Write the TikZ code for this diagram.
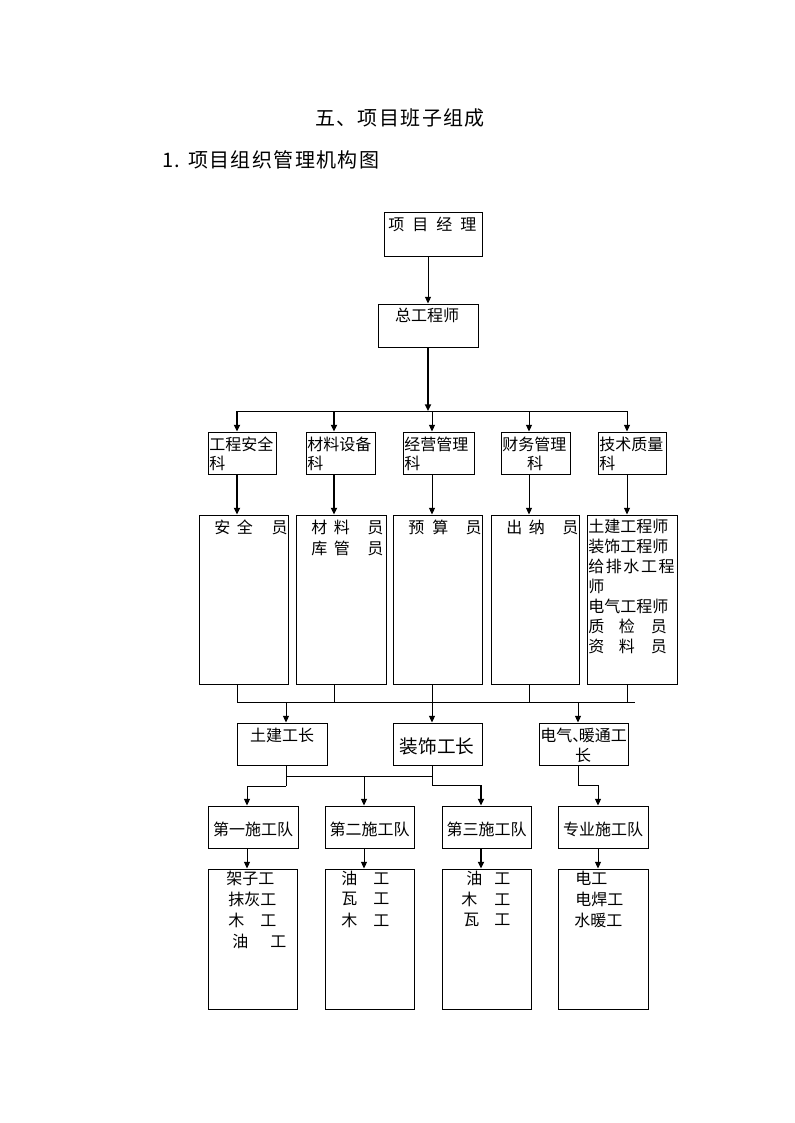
\documentclass[tikz,border=0pt]{standalone}
\usepackage{fontspec}
\setmainfont{Noto Sans CJK SC}
\newfontfamily\spacedfont[LetterSpace=7]{Noto Sans CJK SC}
\usetikzlibrary{arrows.meta,fit}
\begin{document}
\begin{tikzpicture}[x=0.75pt,y=-0.75pt,
  box/.style={draw,line width=0.75pt,inner sep=0pt},
  arr/.style={-{Triangle[length=5pt,width=4.5pt]},line width=0.75pt},
  tarr/.style={-{Triangle[length=5pt,width=4.5pt]},line width=1.6pt},
  ln/.style={line width=0.75pt},
  txt/.style={font=\fontsize{12pt}{14pt}\selectfont,inner sep=0pt,anchor=west},
  ctxt/.style={font=\fontsize{12pt}{14pt}\selectfont,inner sep=0pt},
  ttl/.style={font=\spacedfont\fontsize{15pt}{18pt}\selectfont,inner sep=0pt}]
\useasboundingbox[fill=white] (0,0) rectangle (794,1123);

% titles
\node[ttl] (title) at (400,118) {五、项目班子组成};
\node[ttl,anchor=west] (subtitle) at (162,160) {1. 项目组织管理机构图};

% top
\node[box,fit={(384,213)(482,256)}] (pm) {};
\node[txt] (tpm) at (388,224) {项\hspace{6pt}目\hspace{6pt}经\hspace{6pt}理};
\node[box,fit={(378,304)(478,347)}] (ce) {};
\node[ctxt] (tce) at (427,315) {总工程师};
\draw[arr] (pm.south -| ce.north) -- (ce.north);

% department bus
\coordinate (k1) at (237,411);
\coordinate (k2) at (334,411);
\coordinate (k3) at (432,411);
\coordinate (k4) at (529,411);
\coordinate (k5) at (627,411);
\draw[tarr] (ce.south) -- (ce.south |- k1);
\draw[ln] (k1) -- (k5);

% departments
\node[box,fit={(208,432)(276,474)}] (d1) {};
\node[box,fit={(306,432)(375,474)}] (d2) {};
\node[box,fit={(403,432)(474,474)}] (d3) {};
\node[box,fit={(501,432)(570,474)}] (d4) {};
\node[box,fit={(598,432)(666,474)}] (d5) {};
\node[txt] (td1a) at (209,444) {工程安全};
\node[txt] (td1b) at (209,463) {科};
\node[txt] (td2a) at (307,444) {材料设备};
\node[txt] (td2b) at (307,463) {科};
\node[txt] (td3a) at (404,444) {经营管理};
\node[txt] (td3b) at (404,463) {科};
\node[txt] (td4a) at (502,444) {财务管理};
\node[ctxt] (td4b) at (535,463) {科};
\node[txt] (td5a) at (599,444) {技术质量};
\node[txt] (td5b) at (599,463) {科};

\draw[tarr] (k1) -- (k1 |- d1.north);
\draw[tarr] (k2) -- (k2 |- d2.north);
\draw[arr] (k3) -- (k3 |- d3.north);
\draw[arr] (k4) -- (k4 |- d4.north);
\draw[arr] (k5) -- (k5 |- d5.north);

% staff boxes
\node[box,fit={(199,515)(288,684)}] (s1) {};
\node[box,fit={(296,515)(386,684)}] (s2) {};
\node[box,fit={(393,515)(482,684)}] (s3) {};
\node[box,fit={(491,515)(579,684)}] (s4) {};
\node[box,fit={(587,515)(677,684)}] (s5) {};

\draw[tarr] (k1 |- d1.south) -- (k1 |- s1.north);
\draw[tarr] (k2 |- d2.south) -- (k2 |- s2.north);
\draw[arr] (k3 |- d3.south) -- (k3 |- s3.north);
\draw[arr] (k4 |- d4.south) -- (k4 |- s4.north);
\draw[arr] (k5 |- d5.south) -- (k5 |- s5.north);

\node[txt] (ts1) at (214,527) {安\hspace{5pt}全\hspace{14pt}员};
\node[txt] (ts2a) at (311,527) {材\hspace{5pt}料\hspace{13pt}员};
\node[txt] (ts2b) at (311,548) {库\hspace{5pt}管\hspace{13pt}员};
\node[txt] (ts3) at (408,527) {预\hspace{6pt}算\hspace{13pt}员};
\node[txt] (ts4) at (506,527) {出\hspace{5pt}纳\hspace{13pt}员};
\node[txt] (ts5a) at (588,526) {土建工程师};
\node[txt] (ts5b) at (588,546) {装饰工程师};
\node[txt] (ts5c) at (588,566) {给\hspace{1.2pt}排\hspace{1.2pt}水\hspace{1.2pt}工\hspace{1.2pt}程};
\node[txt] (ts5d) at (588,586) {师};
\node[txt] (ts5e) at (588,606) {电气工程师};
\node[txt] (ts5f) at (588,626) {质\hspace{11pt}检\hspace{12pt}员};
\node[txt] (ts5g) at (588,646) {资\hspace{11pt}料\hspace{12pt}员};

% lower bus
\coordinate (m1) at (237,702);
\coordinate (m2) at (334,702);
\coordinate (m3) at (432,702);
\coordinate (m4) at (529,702);
\coordinate (m5) at (627,702);
\coordinate (mR) at (635,702);
\coordinate (n1) at (286,702);
\coordinate (n3) at (578,702);
\draw[ln] (k1 |- s1.south) -- (m1);
\draw[ln] (k2 |- s2.south) -- (m2);
\draw[ln] (k3 |- s3.south) -- (m3);
\draw[ln] (k4 |- s4.south) -- (m4);
\draw[ln] (k5 |- s5.south) -- (m5);
\draw[ln] (m1) -- (mR);

% foremen
\node[box,fit={(237,723)(327,765)}] (f1) {};
\node[box,fit={(393,723)(482,765)}] (f2) {};
\node[box,fit={(539,723)(628,765)}] (f3) {};
\node[ctxt] (tf1) at (282,735) {土建工长};
\node[font=\fontsize{14pt}{16pt}\selectfont,inner sep=0pt] (tf2) at (437,746) {装饰工长};
\node[txt] (tf3a) at (540,735) {电气\makebox[5pt][l]{、}暖通工};
\node[ctxt] (tf3b) at (583,755) {长};
\draw[arr] (n1) -- (n1 |- f1.north);
\draw[arr] (m3) -- (m3 |- f2.north);
\draw[arr] (n3) -- (n3 |- f3.north);

% teams
\node[box,fit={(208,806)(298,848)}] (t1) {};
\node[box,fit={(325,806)(414,848)}] (t2) {};
\node[box,fit={(442,806)(531,848)}] (t3) {};
\node[box,fit={(558,806)(648,848)}] (t4) {};
\node[ctxt] (tt1) at (253,829) {第一施工队};
\node[ctxt] (tt2) at (369.5,829) {第二施工队};
\node[ctxt] (tt3) at (486.5,829) {第三施工队};
\node[ctxt] (tt4) at (603,829) {专业施工队};

\coordinate (u1) at (286,776);
\coordinate (u2) at (286,786);
\coordinate (u3) at (433,776);
\coordinate (v1) at (247,786);
\coordinate (v2) at (364,776);
\coordinate (w1) at (432,785);
\coordinate (w2) at (481,785);
\coordinate (z1) at (578,785);
\coordinate (z2) at (598,785);
\draw[ln] (u1 |- f1.south) -- (u2);
\draw[ln] (u1) -- (u3);
\draw[arr] (u2) -- (v1) -- (v1 |- t1.north);
\draw[arr] (v2) -- (v2 |- t2.north);
\draw[ln] (w1 |- f2.south) -- (w1) -- (w2);
\draw[tarr] (w2) -- (w2 |- t3.north);
\draw[arr] (z1 |- f3.south) -- (z1) -- (z2) -- (z2 |- t4.north);

% worker boxes
\node[box,fit={(208,869)(297,1009)}] (g1) {};
\node[box,fit={(325,869)(414,1009)}] (g2) {};
\node[box,fit={(442,869)(531,1009)}] (g3) {};
\node[box,fit={(558,869)(648,1009)}] (g4) {};
\draw[arr] (v1 |- t1.south) -- (v1 |- g1.north);
\draw[arr] (v2 |- t2.south) -- (v2 |- g2.north);
\draw[tarr] (w2 |- t3.south) -- (w2 |- g3.north);
\draw[arr] (z2 |- t4.south) -- (z2 |- g4.north);

\node[txt] (tg1a) at (226,878) {架子工};
\node[txt] (tg1b) at (228,899) {抹灰工};
\node[txt] (tg1c) at (228,920) {木\hspace{12pt}工};
\node[txt] (tg1d) at (232,941) {油\hspace{16.5pt}工};
\node[txt] (tg2a) at (341,878) {油\hspace{12pt}工};
\node[txt] (tg2b) at (341,899) {瓦\hspace{12pt}工};
\node[txt] (tg2c) at (341,920) {木\hspace{12pt}工};
\node[txt] (tg3a) at (466,878) {油\hspace{9pt}工};
\node[txt] (tg3b) at (461,899) {木\hspace{12.75pt}工};
\node[txt] (tg3c) at (463,920) {瓦\hspace{11.25pt}工};
\node[txt] (tg4a) at (575,878) {电工};
\node[txt] (tg4b) at (575,899) {电焊工};
\node[txt] (tg4c) at (574,920) {水暖工};
\end{tikzpicture}
\end{document}
